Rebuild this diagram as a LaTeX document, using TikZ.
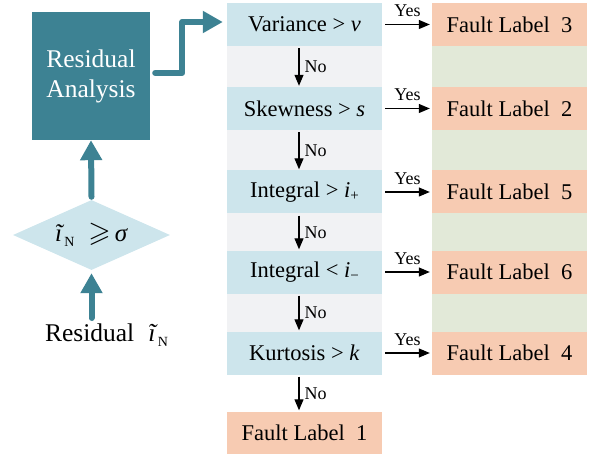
\documentclass[tikz,border=0pt]{standalone}
\usepackage{amssymb}
\usepackage{fontspec}
\setmainfont{Liberation Serif}
\usetikzlibrary{arrows.meta,shapes.geometric}

\definecolor{tealbox}{RGB}{61,130,147}
\definecolor{condblue}{RGB}{205,229,236}
\definecolor{stripgray}{RGB}{241,242,244}
\definecolor{stripgreen}{RGB}{226,233,216}
\definecolor{faultorange}{RGB}{247,203,178}

\begin{document}
\begin{tikzpicture}[x=1pt,y=-1pt,
  condbox/.style={fill=condblue, minimum width=155pt, minimum height=43pt,
    inner sep=0pt, font=\fontsize{22.5}{26}\selectfont},
  faultbox/.style={fill=faultorange, minimum width=155pt, minimum height=43pt,
    inner sep=0pt, font=\fontsize{22.5}{26}\selectfont},
  bigarrow/.style={draw=tealbox, line width=6pt, line cap=round, line join=round,
    -{Triangle[length=20pt,width=21pt]}},
  flow/.style={draw=black, line width=1.1pt, -{Triangle[length=11pt,width=9pt]}},
  yeslbl/.style={midway, above=7pt, inner sep=0pt, font=\fontsize{18}{18}\selectfont},
  nolbl/.style={midway, right=5pt, inner sep=0pt, font=\fontsize{18}{18}\selectfont},
]
\useasboundingbox (0,0) rectangle (591,454);

% background strips behind the decision column and the label column
\fill[stripgray] (227,3) rectangle (382,374);
\fill[stripgreen] (432,3) rectangle (587,374);

% left part: threshold test and residual analysis
\node[fill=tealbox, minimum width=118pt, minimum height=128pt, inner sep=0pt,
  text=white, align=center, font=\fontsize{25.5}{30}\selectfont]
  (ra) at (91,76) {Residual\\Analysis};
\node[diamond, fill=condblue, minimum width=157pt, minimum height=70pt, inner sep=0pt]
  (dia) at (91.5,235) {};
\node[inner sep=0pt, font=\fontsize{25}{28}\selectfont] (diatext) at (dia.center)
  {\textit{ĩ}\raisebox{-0.45ex}{\fontsize{14}{14}\selectfont N}\;\;\scalebox{1.15}{$\geqslant$}\,\textit{σ}};
\node[inner sep=0pt, font=\fontsize{25.5}{28}\selectfont] (resid) at (106.5,335)
  {Residual\;\;\textit{ĩ}\raisebox{-0.45ex}{\fontsize{14}{14}\selectfont N}};
\coordinate (rtop) at (91.5,318);

\draw[bigarrow] (rtop) -- ([yshift=-3pt]dia.south);
\draw[bigarrow] ([yshift=3pt]dia.north) -- (ra.south);

% decision chain
\node[condbox] (b1) at (304.5,24.5) {Variance > \textit{v}};
\node[condbox] (b2) at (304.5,108.5) {Skewness > \textit{s}};
\node[condbox] (b3) at (304.5,192) {Integral > \textit{i}\raisebox{-0.3ex}{\fontsize{15}{15}\selectfont +}};
\node[condbox] (b4) at (304.5,272) {Integral < \textit{i}\raisebox{-0.3ex}{\fontsize{15}{15}\selectfont −}};
\node[condbox] (b5) at (304.5,353) {Kurtosis > \textit{k}};
\node[faultbox] (f1) at (304.5,433) {Fault Label\ \ 1};

\node[faultbox] (f3) at (509.5,24.5) {Fault Label\ \ 3};
\node[faultbox] (f2) at (509.5,108.5) {Fault Label\ \ 2};
\node[faultbox] (f5) at (509.5,192) {Fault Label\ \ 5};
\node[faultbox] (f6) at (509.5,272) {Fault Label\ \ 6};
\node[faultbox] (f4) at (509.5,353) {Fault Label\ \ 4};

% residual analysis feeds the first test
\draw[bigarrow] ([xshift=5pt,yshift=3pt]ra.east) -- ++(27,0)
  |- ([xshift=-4pt,yshift=2.5pt]b1.west);

% "Yes" branches
\foreach \b/\f in {b1/f3,b2/f2,b3/f5,b4/f6,b5/f4}
  \draw[flow] ([xshift=3pt]\b.east) -- ([xshift=-2pt]\f.west) node[yeslbl] {Yes};

% "No" branches
\foreach \a/\b in {b1/b2,b2/b3,b3/b4,b4/b5,b5/f1}
  \draw[flow] ([xshift=-5.5pt,yshift=-2pt]\a.south) -- ([xshift=-5.5pt,yshift=1pt]\b.north)
    node[nolbl] {No};
\end{tikzpicture}
\end{document}
